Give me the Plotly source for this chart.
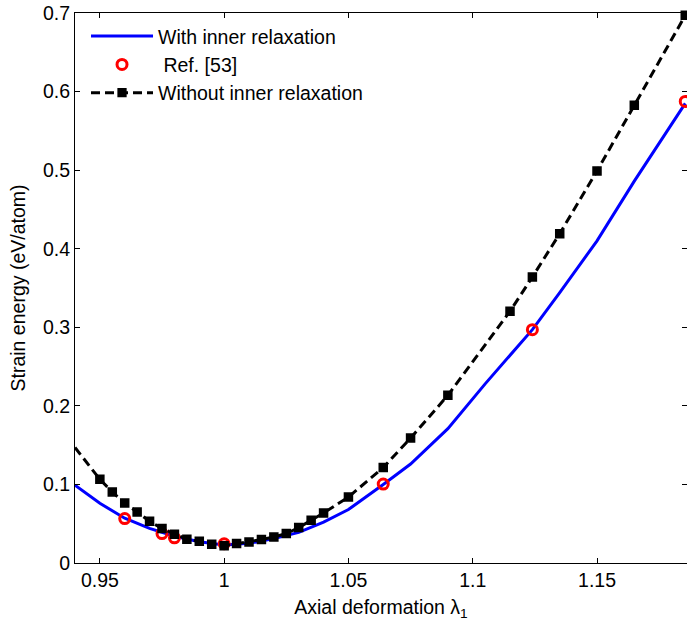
import plotly.graph_objects as go

# With inner relaxation (blue solid line)
blue_x = [0.94, 0.95, 0.96, 0.97, 0.98, 0.99, 1.0, 1.01, 1.02, 1.03, 1.04, 1.05,
          1.064, 1.075, 1.09, 1.105, 1.124, 1.135, 1.15, 1.165, 1.1855]
blue_y = [0.099, 0.076, 0.057, 0.044, 0.034, 0.027, 0.023, 0.025, 0.031, 0.039, 0.052, 0.068,
          0.100, 0.126, 0.171, 0.228, 0.297, 0.344, 0.410, 0.486, 0.585]

# Ref. [53] (red open circles)
ref_x = [0.96, 0.975, 0.98, 1.0, 1.064, 1.124, 1.1855]
ref_y = [0.0565, 0.0375, 0.032, 0.0245, 0.1005, 0.297, 0.5875]

# Without inner relaxation (black dashed with squares); first point has no marker
black_x = [0.94, 0.95, 0.955, 0.96, 0.965, 0.97, 0.975, 0.98, 0.985, 0.99, 0.995, 1.0, 1.005,
           1.01, 1.015, 1.02, 1.025, 1.03, 1.035, 1.04, 1.05, 1.064, 1.075, 1.09, 1.115,
           1.124, 1.135, 1.15, 1.165, 1.1855]
black_y = [0.147, 0.1065, 0.0904, 0.0764, 0.0649, 0.0531, 0.0438, 0.0365, 0.0302, 0.0276,
           0.0238, 0.0221, 0.0247, 0.0267, 0.0298, 0.0331, 0.0374, 0.0451, 0.0543, 0.0636,
           0.084, 0.1214, 0.159, 0.2134, 0.3204, 0.364, 0.4192, 0.4989, 0.5825, 0.697]
black_marker_size = [0] + [7] * (len(black_x) - 1)

x_ticks = [0.95, 1.0, 1.05, 1.1, 1.15]
x_tick_labels = ["0.95", "1", "1.05", "1.1", "1.15"]
y_ticks = [0, 0.1, 0.2, 0.3, 0.4, 0.5, 0.6, 0.7]
y_tick_labels = ["0", "0.1", "0.2", "0.3", "0.4", "0.5", "0.6", "0.7"]

FONT = "Liberation Sans, Arial, Helvetica, sans-serif"
FS = 19.5

fig = go.Figure()
fig.add_trace(go.Scatter(
    x=blue_x, y=blue_y, mode="lines", name="With inner relaxation",
    line=dict(color="#0000FF", width=3),
))
fig.add_trace(go.Scatter(
    x=ref_x, y=ref_y, mode="markers", name=" Ref. [53]",
    marker=dict(symbol="circle-open", size=10, color="#FF0000", opacity=1,
                line=dict(width=3, color="#FF0000")),
    cliponaxis=False,
))
fig.add_trace(go.Scatter(
    x=black_x, y=black_y, mode="lines+markers", name="Without inner relaxation",
    line=dict(color="black", width=3, dash="9px,5px"),
    marker=dict(symbol="square", size=black_marker_size, color="black", opacity=1,
                line=dict(color="black", width=2.5)),
    cliponaxis=False,
))

axis_common = dict(
    showline=True, linecolor="black", linewidth=1, mirror="allticks",
    ticks="inside", ticklen=5, tickcolor="black", tickwidth=1,
    showgrid=False, zeroline=False, automargin=False,
    ticklabeloverflow="allow",
    tickfont=dict(family=FONT, size=FS, color="black"),
)

fig.update_layout(
    width=687, height=625,
    margin=dict(l=75, r=0, t=13, b=62),
    paper_bgcolor="white", plot_bgcolor="white",
    font=dict(family=FONT, size=FS, color="black"),
    xaxis=dict(range=[0.94, 1.1862], tickvals=x_ticks, ticktext=x_tick_labels,
               title=dict(text="Axial deformation λ<sub>1</sub>", font=dict(family=FONT, size=FS), standoff=9),
               **axis_common),
    yaxis=dict(range=[0, 0.7], tickvals=y_ticks, ticktext=y_tick_labels,
               title=dict(text="Strain energy (eV/atom)", font=dict(family=FONT, size=FS), standoff=12),
               **axis_common),
    legend=dict(x=0.018, y=0.993, xanchor="left", yanchor="top",
                bgcolor="rgba(0,0,0,0)", borderwidth=0,
                font=dict(family=FONT, size=FS, color="black"),
                itemwidth=62, tracegroupgap=0),
    showlegend=True,
)

# remove the default 8px page margin so the figure sits at the window's top-left corner
fig.write_html("out.html", config={"displayModeBar": False},
               post_script="document.body.style.margin='0';")
